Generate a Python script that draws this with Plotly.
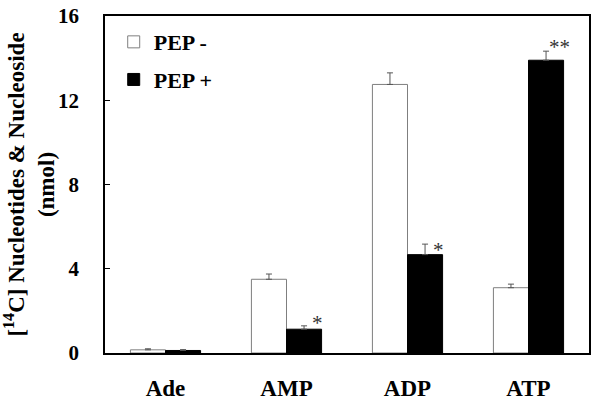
import plotly.graph_objects as go

categories = ["Ade", "AMP", "ADP", "ATP"]
pep_minus = [0.15, 3.5, 12.75, 3.1]
pep_minus_err = [0.05, 0.25, 0.55, 0.17]
pep_plus = [0.12, 1.13, 4.67, 13.9]
pep_plus_err = [0.04, 0.16, 0.5, 0.43]
sig_labels = ["", "*", "*", "**"]

font_family = "Liberation Serif"

fig = go.Figure()
fig.add_trace(go.Bar(
    x=categories, y=pep_minus, name="<b>PEP -</b>",
    marker=dict(color="white", line=dict(color="#7f7f7f", width=1)),
    error_y=dict(type="data", array=pep_minus_err, symmetric=False,
                 arrayminus=[0]*4, color="#555555", thickness=1, width=3),
    legendgroup="a",
))
fig.add_trace(go.Bar(
    x=categories, y=pep_plus, name="<b>PEP +</b>",
    marker=dict(color="black", line=dict(color="black", width=1)),
    error_y=dict(type="data", array=pep_plus_err, symmetric=False,
                 arrayminus=[0]*4, color="#555555", thickness=1, width=3),
    legendgroup="b",
))

star_yshift = [0, 3, -6, 4]
annotations = []
for c, v, e, s, ys in zip(categories, pep_plus, pep_plus_err, sig_labels, star_yshift):
    if s:
        annotations.append(dict(
            x=c, y=v + e, text=s, showarrow=False, xref="x", yref="y",
            xshift=31, yshift=ys, font=dict(size=21, color="#333333", family=font_family),
        ))

fig.update_layout(
    width=601, height=404,
    margin=dict(l=105, r=12, t=16, b=51),
    paper_bgcolor="white", plot_bgcolor="white",
    barmode="group", bargap=0.42, bargroupgap=0,
    font=dict(family=font_family, size=20, color="black"),
    showlegend=True,
    legend=dict(x=0.018, y=0.985, xanchor="left", yanchor="top",
                font=dict(size=22, family=font_family), tracegroupgap=6,
                bgcolor="rgba(0,0,0,0)", itemwidth=30),
    annotations=annotations,
    xaxis=dict(showline=True, linecolor="black", linewidth=1.5, mirror=True,
               ticks="", ticklabelstandoff=14, automargin=False,
               tickfont=dict(size=23, family=font_family),
               tickvals=categories, ticktext=[f"<b>{c}</b>" for c in categories]),
    yaxis=dict(range=[0, 16], tickvals=[0, 4, 8, 12, 16],
               ticktext=["<b>0</b>", "<b>4</b>", "<b>8</b>", "<b>12</b>", "<b>16</b>"],
               showline=True, linecolor="black", linewidth=1.5, mirror=True,
               ticks="inside", ticklen=5, tickcolor="black", showgrid=False,
               zeroline=False, ticklabelstandoff=20, automargin=False,
               tickfont=dict(size=21, family=font_family),
               title=dict(text="<b>[<sup>14</sup>C] Nucleotides & Nucleoside<br>(nmol)</b>",
                          font=dict(size=23, family=font_family), standoff=6)),
)

fig.write_html("out.html", config={"displayModeBar": False},
               post_script="document.body.style.margin='0';")
